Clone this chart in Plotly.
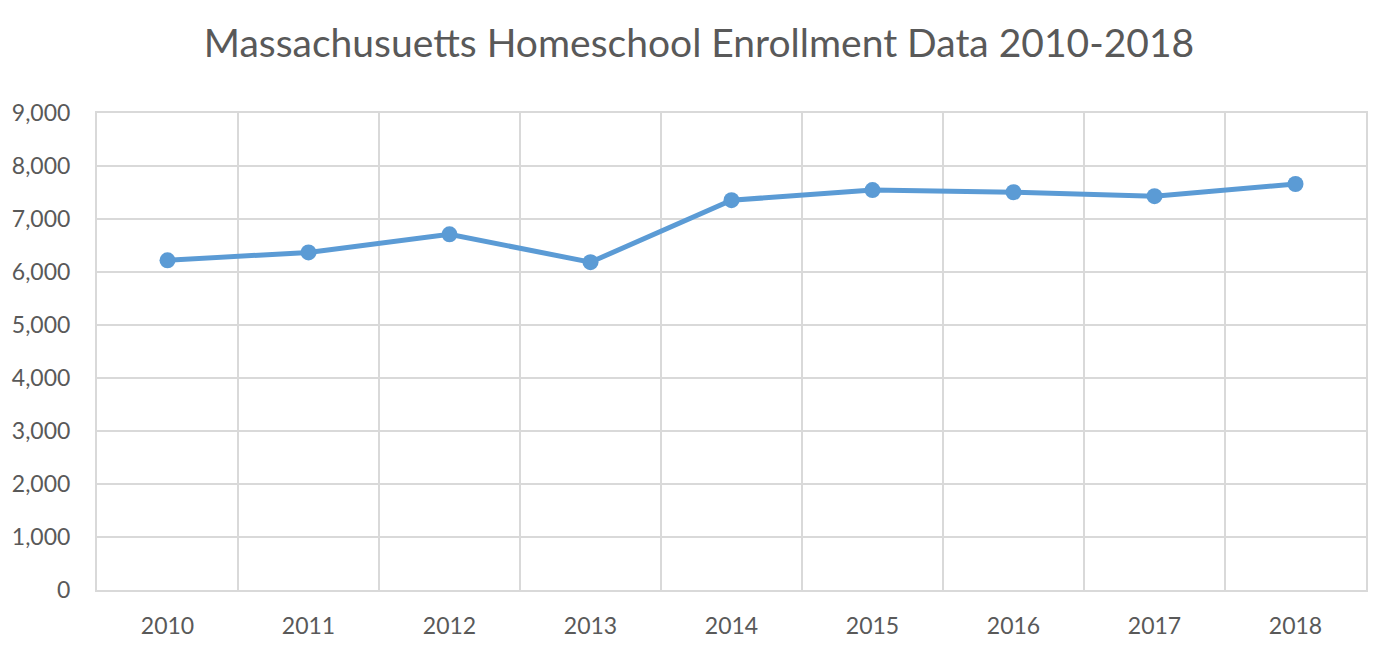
import plotly.graph_objects as go

# données
annees = ["2010", "2011", "2012", "2013", "2014", "2015", "2016", "2017", "2018"]
inscriptions = [6220, 6370, 6710, 6185, 7355, 7545, 7505, 7430, 7660]
y_ticks = [0, 1000, 2000, 3000, 4000, 5000, 6000, 7000, 8000, 9000]

fig = go.Figure()
fig.add_trace(go.Scatter(
    x=annees, y=inscriptions, mode="lines+markers",
    line=dict(color="#5B9BD5", width=5),
    marker=dict(color="#5B9BD5", size=16),
    showlegend=False))

# la page a une marge de 8 px, d'où la taille réduite
fig.update_layout(
    width=1382, height=646,
    paper_bgcolor="white", plot_bgcolor="white",
    margin=dict(l=89, r=24, t=105, b=64),
    font=dict(family="Lato, Open Sans, sans-serif", color="#595959", size=23),
    title=dict(text="Massachusuetts Homeschool Enrollment Data 2010-2018",
               x=0.5, xanchor="center", y=0.945, yanchor="middle",
               font=dict(size=39, color="#595959")))

fig.update_xaxes(type="category", tickson="boundaries", showgrid=True,
                 gridcolor="#D9D9D9", gridwidth=2, showline=True, mirror=True,
                 linecolor="#D9D9D9", linewidth=2, ticks="",
                 ticklabelstandoff=14, range=[-0.5, 8.5], automargin=False)
fig.update_yaxes(range=[0, 9000], tickvals=y_ticks, tickformat=",",
                 showgrid=True, gridcolor="#D9D9D9", gridwidth=2,
                 showline=True, mirror=True, linecolor="#D9D9D9", linewidth=2,
                 zeroline=False, ticks="", ticklabelstandoff=20, automargin=False)

fig.write_html("out.html")
